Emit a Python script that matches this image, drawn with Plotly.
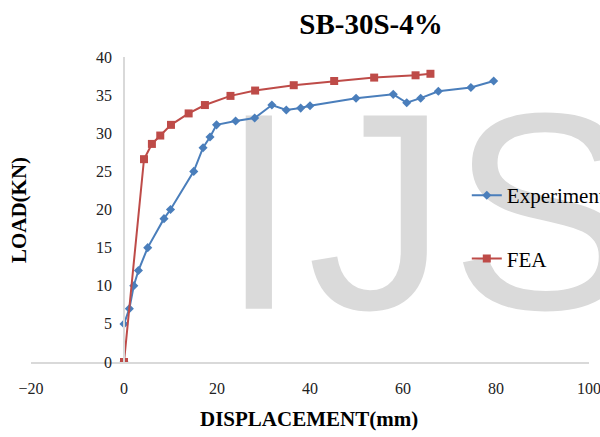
import plotly.graph_objects as go

# Data
exp_x = [0, 0, 1.15, 2.1, 3.1, 5.1, 8.6, 10.0, 15.0, 17.0, 18.5, 19.9, 24.0, 28.1,
         31.8, 34.9, 38.0, 40.0, 49.9, 57.9, 60.8, 63.8, 67.6, 74.6, 79.5]
exp_y = [0, 5, 7.0, 10.0, 12.0, 15.0, 18.8, 20.0, 25.0, 28.1, 29.5, 31.1, 31.6, 32.0,
         33.7, 33.05, 33.3, 33.6, 34.6, 35.1, 34.0, 34.6, 35.5, 36.0, 36.85]
fea_x = [0, 4.3, 6.0, 7.8, 10.1, 13.9, 17.4, 22.9, 28.2, 36.5, 45.2, 53.8, 62.7, 65.9]
fea_y = [0, 26.6, 28.6, 29.7, 31.1, 32.6, 33.7, 34.9, 35.6, 36.3, 36.85, 37.3, 37.6, 37.8]

x_ticks = [-20, 0, 20, 40, 60, 80, 100]
y_ticks = [0, 5, 10, 15, 20, 25, 30, 35, 40]

# background watermark letters
wm_text = ["I", "J", "S"]
wm_x = [29.0, 54.5, 90.3]
wm_y = [16.2, 16.2, 16.2]

serif = "Liberation Serif, Times New Roman, serif"

W, H = 600, 437

fig = go.Figure()

fig.add_trace(go.Scatter(
    x=wm_x, y=wm_y, mode="text", text=wm_text, textposition="middle center",
    textfont=dict(family="Liberation Sans, Arial, sans-serif", size=281, color="#dadada"),
    hoverinfo="skip", showlegend=False, cliponaxis=False))

fig.add_trace(go.Scatter(
    x=exp_x, y=exp_y, mode="lines+markers", name="Experiment",
    line=dict(color="#4A7EBB", width=2),
    marker=dict(symbol="diamond", size=7, color="#4A7EBB"),
    legendgroup="a"))
fig.add_trace(go.Scatter(
    x=fea_x, y=fea_y, mode="lines+markers", name="FEA",
    line=dict(color="#BE4B48", width=2),
    marker=dict(symbol="square", size=8, color="#BE4B48"),
    legendgroup="b"))

fig.update_layout(
    width=W, height=H,
    margin=dict(l=31, r=11, t=57, b=75, autoexpand=False),
    paper_bgcolor="white", plot_bgcolor="white",
    font=dict(family=serif, color="#222"),
    title=dict(text="<b>SB-30S-4%</b>", x=371 / W, xanchor="center",
               y=1 - 24 / H, yanchor="middle", yref="container", automargin=False,
               font=dict(family=serif, size=29, color="black")),
    xaxis=dict(range=[-20, 100], tickvals=x_ticks, showgrid=False, zeroline=False,
               showline=True, linecolor="#d9d9d9", linewidth=1.5, ticks="",
               automargin=False, ticklabeloverflow="allow",
               ticklabelstandoff=11, tickfont=dict(family=serif, size=16, color="#222")),
    yaxis=dict(range=[0, 40], tickvals=y_ticks, showgrid=False, zeroline=False,
               showline=True, linecolor="#d9d9d9", linewidth=1.5, ticks="",
               automargin=False, ticklabeloverflow="allow",
               anchor="free", position=1 / 6, ticklabelstandoff=8,
               tickfont=dict(family=serif, size=16, color="#222")),
    legend=dict(x=0.781, xanchor="left", y=0.613, yanchor="top",
                bgcolor="rgba(0,0,0,0)", font=dict(family=serif, size=21, color="black"),
                traceorder="grouped", tracegroupgap=33, itemwidth=30),
    showlegend=True,
    annotations=[
        dict(text="<b>DISPLACEMENT(mm)</b>", xref="paper", yref="paper",
             x=0.498, y=(362 - 419) / 305, xanchor="center", yanchor="middle",
             showarrow=False, font=dict(family=serif, size=21, color="black")),
        dict(text="<b>LOAD(KN)</b>", xref="paper", yref="paper",
             x=(19 - 31) / 558, y=0.498, xanchor="center", yanchor="middle",
             textangle=-90, showarrow=False,
             font=dict(family=serif, size=21, color="black")),
    ],
)

# remove the browser's default body margin so the figure fills the window exactly
fig.write_html("out.html", config={"displayModeBar": False},
               post_script="document.body.style.margin='0px';")
